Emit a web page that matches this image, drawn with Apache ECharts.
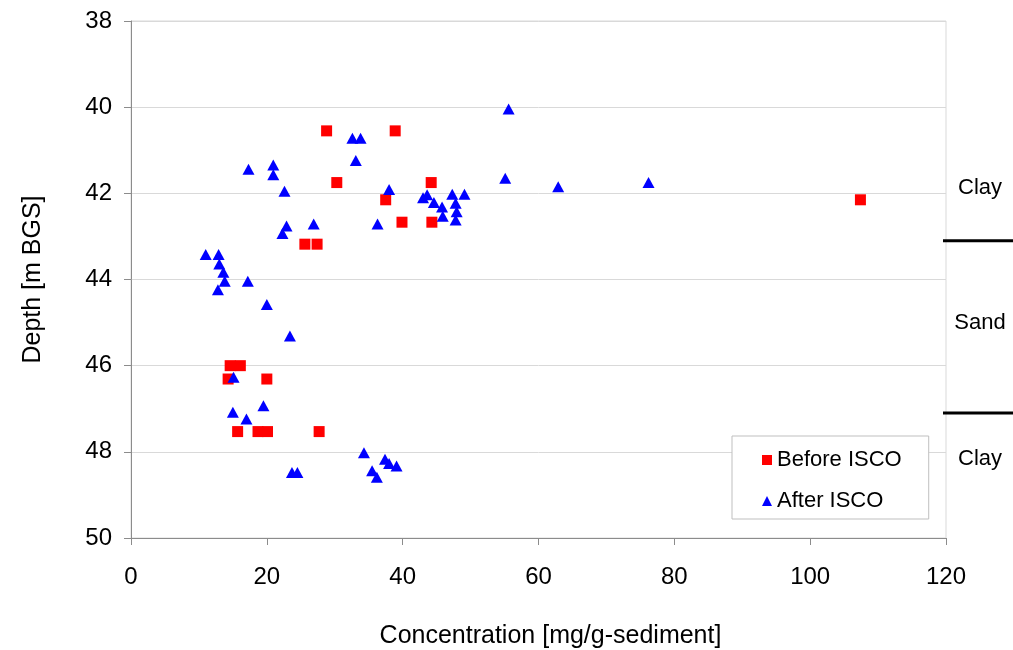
<!DOCTYPE html>
<html>
<head>
<meta charset="utf-8">
<script src="https://cdn.jsdelivr.net/npm/echarts@6/dist/echarts.min.js"></script>
<style>
  html, body { margin: 0; padding: 0; background: #fff; }
  #chart { width: 1013px; height: 650px; }
</style>
</head>
<body>
<div id="chart"></div>
<script>
// Before ISCO (red squares)
const beforeX = [28.8, 38.9, 30.3, 44.2, 37.5, 107.4, 39.9, 44.3, 25.6, 27.4,
  14.6, 16.1, 14.3, 20.0, 15.7, 18.7, 20.1, 27.7];
const beforeY = [40.55, 40.55, 41.75, 41.75, 42.15, 42.15, 42.67, 42.67, 43.18, 43.18,
  46.0, 46.0, 46.31, 46.31, 47.53, 47.53, 47.53, 47.53];

// After ISCO (blue triangles)
const afterX = [17.3, 20.95, 20.95, 22.6, 22.9, 22.3, 26.9, 32.6, 33.8, 33.1,
  38.0, 36.3, 43.0, 43.6, 44.6, 45.8, 45.9, 47.3, 47.8, 47.95,
  47.8, 49.1, 55.6, 55.1, 62.9, 76.2, 11.0, 12.9, 13.0, 13.6,
  13.8, 12.8, 17.2, 20.0, 23.4, 15.1, 15.0, 17.0, 19.5, 23.7,
  24.5, 34.3, 37.4, 38.0, 39.1, 35.5, 36.2];
const afterY = [41.44, 41.34, 41.57, 41.95, 42.76, 42.93, 42.71, 40.72, 40.72, 41.24,
  41.91, 42.71, 42.1, 42.03, 42.21, 42.32, 42.53, 42.02, 42.23, 42.43,
  42.62, 42.02, 40.04, 41.65, 41.85, 41.75, 43.42, 43.42, 43.64, 43.83,
  44.04, 44.24, 44.04, 44.58, 45.31, 46.27, 47.08, 47.24, 46.93, 48.48,
  48.48, 48.02, 48.17, 48.27, 48.33, 48.44, 48.59];

// soil layers on the right side
const layerBounds = [43.1, 47.1];
const layerNames = ["Clay", "Sand", "Clay"];
const layerLabelDepth = [41.88, 45.0, 48.17];

const font = "'Liberation Sans', Arial, sans-serif";
const axisGray = "#8c8c8c";

const pairs = (xs, ys) => xs.map((x, i) => [x, ys[i]]);

const chart = echarts.init(document.getElementById("chart"));
chart.setOption({
  animation: false,
  grid: {
    left: 131,
    right: 67,
    top: 21,
    bottom: 112,
    outerBoundsMode: "none",
    show: true,
    borderColor: "#d9d9d9",
    borderWidth: 1,
  },
  legend: {
    orient: "vertical",
    left: 732,
    top: 436,
    padding: [13, 27, 7, 30],
    itemGap: 19,
    itemWidth: 10,
    itemHeight: 10,
    backgroundColor: "#fff",
    borderColor: "#bfbfbf",
    borderWidth: 1,
    borderRadius: 0,
    textStyle: { fontFamily: font, fontSize: 22, color: "#000" },
    data: [
      { name: "Before ISCO", icon: "rect" },
      { name: "After ISCO", icon: "triangle" },
    ],
  },
  xAxis: {
    type: "value",
    min: 0,
    max: 120,
    interval: 20,
    name: "Concentration [mg/g-sediment]",
    nameLocation: "middle",
    nameGap: 86,
    nameTextStyle: { fontFamily: font, fontSize: 25, color: "#000", padding: [0, 0, 0, 24] },
    axisLine: { show: true, lineStyle: { color: axisGray } },
    axisTick: { show: true, length: 7, lineStyle: { color: axisGray } },
    axisLabel: { fontFamily: font, fontSize: 24, color: "#000", margin: 27 },
    splitLine: { show: false },
  },
  yAxis: {
    type: "value",
    inverse: true,
    min: 38,
    max: 50,
    interval: 2,
    name: "Depth [m BGS]",
    nameLocation: "middle",
    nameGap: 85,
    nameRotate: 90,
    nameTextStyle: { fontFamily: font, fontSize: 25, color: "#000" },
    axisLine: { show: true, onZero: false, lineStyle: { color: axisGray } },
    axisTick: { show: true, length: 7, lineStyle: { color: axisGray } },
    axisLabel: { fontFamily: font, fontSize: 24, color: "#000", margin: 19 },
    splitLine: { show: true, lineStyle: { color: "#d9d9d9", width: 1 } },
  },
  series: [
    {
      name: "Before ISCO",
      type: "scatter",
      symbol: "rect",
      symbolSize: 11,
      itemStyle: { color: "#ff0000", opacity: 1 },
      data: pairs(beforeX, beforeY),
    },
    {
      name: "After ISCO",
      type: "scatter",
      symbol: "triangle",
      symbolSize: [12, 11],
      itemStyle: { color: "#0000ff", opacity: 1 },
      data: pairs(afterX, afterY),
    },
  ],
});

// layer annotations placed outside the plot through the y axis scale
const rightEdge = chart.convertToPixel({ xAxisIndex: 0 }, 120);
const graphics = [];
layerBounds.forEach((d) => {
  const y = chart.convertToPixel({ yAxisIndex: 0 }, d);
  graphics.push({
    type: "line",
    shape: { x1: rightEdge - 3, y1: y, x2: 1013, y2: y },
    style: { stroke: "#000", lineWidth: 3 },
  });
});
layerNames.forEach((name, i) => {
  const y = chart.convertToPixel({ yAxisIndex: 0 }, layerLabelDepth[i]);
  graphics.push({
    type: "text",
    x: rightEdge + 34,
    y: y,
    style: {
      text: name,
      fontFamily: font,
      fontSize: 22,
      fill: "#000",
      align: "center",
      verticalAlign: "middle",
    },
  });
});
chart.setOption({ graphic: graphics });
</script>
</body>
</html>
